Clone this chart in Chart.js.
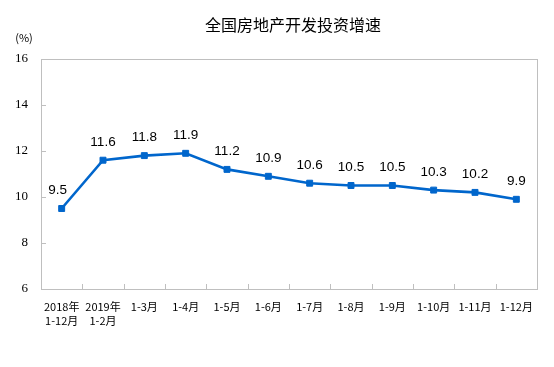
<!DOCTYPE html>
<html>
<head>
<meta charset="utf-8">
<script src="https://cdn.jsdelivr.net/npm/chart.js@4"></script>
<style>
  html, body { margin: 0; padding: 0; background: #fff; }
  #wrap { width: 554px; height: 367px; position: relative; }
</style>
</head>
<body>
<div id="wrap"><canvas id="myChart"></canvas></div>
<script>
var title = '全国房地产开发投资增速';
var unitLabel = '(%)';
var categories = [
    ['2018年', '1-12月'], ['2019年', '1-2月'], '1-3月', '1-4月', '1-5月', '1-6月',
    '1-7月', '1-8月', '1-9月', '1-10月', '1-11月', '1-12月'
];
var growth = [9.5, 11.6, 11.8, 11.9, 11.2, 10.9, 10.6, 10.5, 10.5, 10.3, 10.2, 9.9];
var yTicks = [6, 8, 10, 12, 14, 16];

var blue = '#0066cc';
var frameColor = '#bfbfbf';

// frame, inside tick marks, title, unit and value labels
var decor = {
    id: 'decor',
    afterDraw: function(chart){
        var ctx = chart.ctx;
        var a = chart.chartArea;
        var xs = chart.scales.x, ys = chart.scales.y;
        ctx.save();
        ctx.strokeStyle = frameColor;
        ctx.lineWidth = 1;
        ctx.strokeRect(Math.round(a.left) + 0.5, Math.round(a.top) + 0.5,
            Math.round(a.right - a.left), Math.round(a.bottom - a.top));
        ctx.beginPath();
        for(var i = 1; i < categories.length; i++){
            var px = Math.round((xs.getPixelForValue(i - 1) + xs.getPixelForValue(i)) / 2) + 0.5;
            ctx.moveTo(px, a.bottom);
            ctx.lineTo(px, a.bottom - 5);
        }
        yTicks.forEach(function(v){
            var py = Math.round(ys.getPixelForValue(v)) + 0.5;
            ctx.moveTo(a.left, py);
            ctx.lineTo(a.left + 5, py);
        });
        ctx.stroke();

        ctx.fillStyle = '#000';
        ctx.textAlign = 'center';
        ctx.textBaseline = 'middle';
        ctx.font = '16px "Noto Sans CJK SC"';
        ctx.fillText(title, 293, 25);
        ctx.font = '11px "Noto Sans CJK SC"';
        ctx.fillText(unitLabel, 24, 38);

        ctx.font = '13.5px "Liberation Sans", Arial, sans-serif';
        var meta = chart.getDatasetMeta(0);
        meta.data.forEach(function(pt, i){
            ctx.fillText(growth[i].toFixed(1), pt.x - (i === 0 ? 4 : 0), pt.y - 18);
        });
        ctx.restore();
    }
};

var ctx = document.getElementById('myChart').getContext('2d');
var myChart = new Chart(ctx, {
    type: 'line',
    data: {
        labels: categories,
        datasets: [{
            data: growth,
            borderColor: blue,
            backgroundColor: blue,
            borderWidth: 2.6,
            pointStyle: 'rect',
            pointRadius: 4.2,
            pointBorderWidth: 1,
            tension: 0
        }]
    },
    options: {
        maintainAspectRatio: false,
        responsive: true,
        animation: false,
        layout: { padding: { top: 59, right: 17, left: 0, bottom: 0 } },
        plugins: {
            legend: { display: false },
            tooltip: { enabled: false }
        },
        scales: {
            x: {
                offset: true,
                grid: { display: false, drawTicks: false },
                border: { display: false },
                ticks: {
                    padding: 10,
                    maxRotation: 0,
                    autoSkip: false,
                    color: '#000',
                    font: { family: '"Noto Sans CJK SC"', size: 11, lineHeight: 1.35 }
                },
                afterFit: function(scale){ scale.height = 78; }
            },
            y: {
                min: 6,
                max: 16,
                afterBuildTicks: function(scale){
                    scale.ticks = yTicks.map(function(v){ return { value: v }; });
                },
                grid: { display: false, drawTicks: false },
                border: { display: false },
                ticks: {
                    padding: 13,
                    color: '#000',
                    font: { family: '"Liberation Serif", "DejaVu Serif", serif', size: 13 }
                },
                afterFit: function(scale){ scale.width = 41; }
            }
        }
    },
    plugins: [decor]
});
</script>
</body>
</html>
